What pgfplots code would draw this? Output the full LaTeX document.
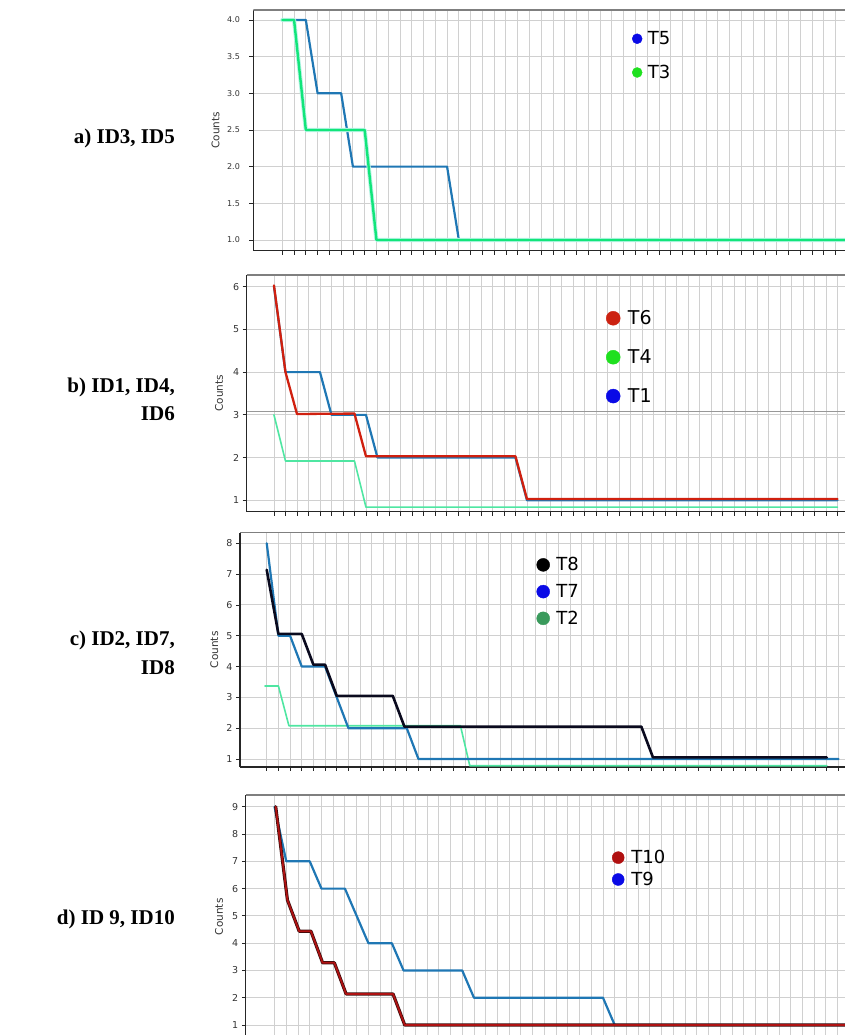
\documentclass[border=0pt]{standalone}
\usepackage{pgfplots}
\usepackage{pgfplotstable}
\pgfplotsset{compat=1.18}
\usepackage{fontspec}
\setmainfont{Liberation Serif}
\newfontfamily\dejavu{DejaVu Sans}

\definecolor{tabblue}{HTML}{1F77B4}
\definecolor{springgreen}{HTML}{12E57A}
\definecolor{greenhalo}{HTML}{B8F4E6}
\definecolor{mint}{HTML}{4FE6A2}
\definecolor{trred}{HTML}{D0200F}
\definecolor{darkred}{HTML}{B01212}
\definecolor{rededge}{HTML}{3A0C0C}
\definecolor{navyblack}{HTML}{0A0A1E}
\definecolor{dotblue}{HTML}{0A0AE6}
\definecolor{dotgreen}{HTML}{1FE01F}
\definecolor{dotred}{HTML}{CC2211}
\definecolor{dotdarkred}{HTML}{B01010}
\definecolor{dotsea}{HTML}{3A9A5C}
\definecolor{gridgray}{HTML}{D0D0D0}
\definecolor{spinedark}{HTML}{262626}
\definecolor{spinegray}{HTML}{7F7F7F}
\definecolor{ticktext}{HTML}{333333}

% ---- series: x = step index, y = counts ----
\pgfplotstableread{
x y
0 4
2 4
3 3
5 3
6 2
14 2
15 1
49 1
}\Tfive
\pgfplotstableread{
x y
0 4
1 4
2 2.5
7 2.5
8 1
49 1
}\Tthree
\pgfplotstableread{
x y
0 6
1 4
4 4
5 3
8 3
9 2
21 2
22 1
49 1
}\Tone
\pgfplotstableread{
x y
0 6.03
1 4
2 3.02
7 3.03
8 2.03
21 2.03
22 1.03
49 1.03
}\Tsix
\pgfplotstableread{
x y
0 3
1 1.92
7 1.92
8 0.84
49 0.84
}\Tfour
\pgfplotstableread{
x y
0 8
1 5
2 5
3 4
5 4
7 2
12 2
13 1
49 1
}\Tseven
\pgfplotstableread{
x y
0 7.14
1 5.06
3 5.06
4 4.06
5 4.06
6 3.05
10.8 3.05
11.8 2.05
32.1 2.05
33.1 1.05
48 1.05
}\Teight
\pgfplotstableread{
x y
-0.15 3.37
1 3.37
1.9 2.08
16.6 2.08
17.4 0.78
48 0.78
}\Ttwo
\pgfplotstableread{
x y
0 9
1 7
3 7
4 6
6 6
8 4
10 4
11 3
16 3
17 2
28 2
29 1
49 1
}\Tnine
\pgfplotstableread{
x y
0.1 9
1.1 5.58
2.1 4.44
3.1 4.44
4.1 3.28
5.1 3.28
6.1 2.14
10.1 2.14
11.1 1
49 1
}\Tten

\pgfplotsset{
  dotr/.initial=5pt,
  legend image code/.code={\fill[#1] (0pt,0pt) circle[radius=\pgfkeysvalueof{/pgfplots/dotr}];},
  panel/.style={
    scale only axis,
    anchor=north west,
    axis x line*=bottom,
    axis y line*=left,
    axis line style={-, spinedark, line width=1.3pt},
    tick align=outside,
    major tick length=4pt,
    tick style={spinedark, line width=0.8pt},
    xtick={0,...,49},
    xticklabels={},
    grid=major,
    major grid style={gridgray, line width=0.9pt},
    /pgf/number format/assume math mode=true,
    yticklabel style={font=\dejavu\fontsize{9.5}{10}\selectfont, text=ticktext},
    ylabel={Counts},
    ylabel style={font=\dejavu\fontsize{10.5}{11}\selectfont, text=ticktext, anchor=center},
    legend cell align=left,
    legend style={draw=none, fill=none, inner sep=0pt, outer sep=0pt,
      anchor=north west, font=\dejavu\fontsize{18}{18}\selectfont,
      cells={inner sep=0pt}},
    every axis plot/.append style={line join=round, line cap=round},
  },
}

\begin{document}
\begin{tikzpicture}
\path[use as bounding box] (0pt,0pt) rectangle (845pt,1035pt);
\clip (0pt,0pt) rectangle (845pt,1035pt);

% row labels
\begin{scope}[every node/.style={anchor=base east, inner sep=0pt,
    font=\fontsize{21}{25}\selectfont\bfseries}]
\node at (175pt,891.7pt) {a) ID3, ID5};
\node at (175pt,642.3pt) {b) ID1, ID4,};
\node at (175pt,614.3pt) {ID6};
\node at (175pt,389pt) {c) ID2, ID7,};
\node at (175pt,360pt) {ID8};
\node at (175pt,110pt) {d) ID 9, ID10};
\end{scope}

% a) ID3, ID5
\begin{axis}[panel,
  at={(253.4pt,1025pt)}, width=606.6pt, height=240.7pt,
  xmin=-2.455, xmax=49.08, ymin=0.854, ymax=4.136,
  ytick={1,1.5,...,4},
  yticklabel style={font=\dejavu\fontsize{8}{9}\selectfont, xshift=-6pt,
    /pgf/number format/.cd, fixed, fixed zerofill, precision=1},
  ylabel style={at={(axis description cs:-0.0625,0.5)}},
  dotr=5pt,
  legend style={at={(rel axis cs:0.6241,0.9192)}, row sep=15pt,
    /tikz/every odd column/.style={column sep=3.5pt}},
]
\draw[spinegray, line width=1.3pt] (rel axis cs:0,1) -- (rel axis cs:1,1);
\addlegendimage{dotblue}\addlegendentry{T5}
\addlegendimage{dotgreen}\addlegendentry{T3}
\addplot[tabblue, line width=2.2pt, forget plot] table {\Tfive};
\addplot[greenhalo, line width=4.2pt, forget plot] table {\Tthree};
\addplot[springgreen, line width=2.4pt, forget plot] table {\Tthree};
\end{axis}

% b) ID1, ID4, ID6
\begin{axis}[panel,
  at={(246.6pt,760pt)}, width=613.4pt, height=236.7pt,
  xmin=-2.38, xmax=50.96, ymin=0.733, ymax=6.274,
  ytick={1,...,6},
  extra y ticks={3.08}, extra y tick labels={},
  extra y tick style={major tick length=0pt,
    major grid style={spinegray!80, line width=1pt}},
  ylabel style={at={(axis description cs:-0.045,0.5)}},
  dotr=7pt,
  legend style={at={(rel axis cs:0.5859,0.8586)}, row sep=19.5pt,
    font=\dejavu\fontsize{19}{19}\selectfont,
    /tikz/every odd column/.style={column sep=5.5pt}},
]
\draw[spinegray, line width=1.3pt] (rel axis cs:0,1) -- (rel axis cs:1,1);
\addlegendimage{dotred}\addlegendentry{T6}
\addlegendimage{dotgreen}\addlegendentry{T4}
\addlegendimage{dotblue}\addlegendentry{T1}
\addplot[mint, line width=1.6pt, forget plot] table {\Tfour};
\addplot[tabblue, line width=2.2pt, forget plot] table {\Tone};
\addplot[trred, line width=2.3pt, forget plot] table {\Tsix};
\end{axis}

% c) ID2, ID7, ID8
\begin{axis}[panel,
  at={(240pt,502.3pt)}, width=620pt, height=234.3pt,
  xmin=-2.29, xmax=50.84, ymin=0.74, ymax=8.344,
  ytick={1,...,8},
  ylabel style={at={(axis description cs:-0.0413,0.5)}},
  dotr=6.5pt,
  legend style={at={(rel axis cs:0.4782,0.9029)}, row sep=8pt,
    /tikz/every odd column/.style={column sep=4.5pt}},
]
\draw[spinegray, line width=1.3pt] (rel axis cs:0,1) -- (rel axis cs:1,1);
\addlegendimage{black}\addlegendentry{T8}
\addlegendimage{dotblue}\addlegendentry{T7}
\addlegendimage{dotsea}\addlegendentry{T2}
\addplot[mint, line width=1.6pt, forget plot] table {\Ttwo};
\addplot[tabblue, line width=2.2pt, forget plot] table {\Tseven};
\addplot[navyblack, line width=2.6pt, forget plot] table {\Teight};
\end{axis}

% d) ID 9, ID10
\begin{axis}[panel,
  at={(245.8pt,240pt)}, width=614.2pt, height=243.7pt,
  xmin=-2.45, xmax=49.91, ymin=0.5, ymax=9.43,
  ytick={1,...,9},
  ylabel style={at={(axis description cs:-0.0436,0.5)}},
  dotr=6pt,
  legend style={at={(rel axis cs:0.5962,0.7817)}, row sep=3pt,
    /tikz/every odd column/.style={column sep=5pt}},
]
\draw[spinegray, line width=1.3pt] (rel axis cs:0,1) -- (rel axis cs:1,1);
\addlegendimage{dotdarkred}\addlegendentry{T10}
\addlegendimage{dotblue}\addlegendentry{T9}
\addplot[tabblue, line width=2.2pt, forget plot] table {\Tnine};
\addplot[rededge, line width=3.2pt, forget plot] table {\Tten};
\addplot[darkred, line width=1.8pt, forget plot] table {\Tten};
\end{axis}
\end{tikzpicture}
\end{document}
